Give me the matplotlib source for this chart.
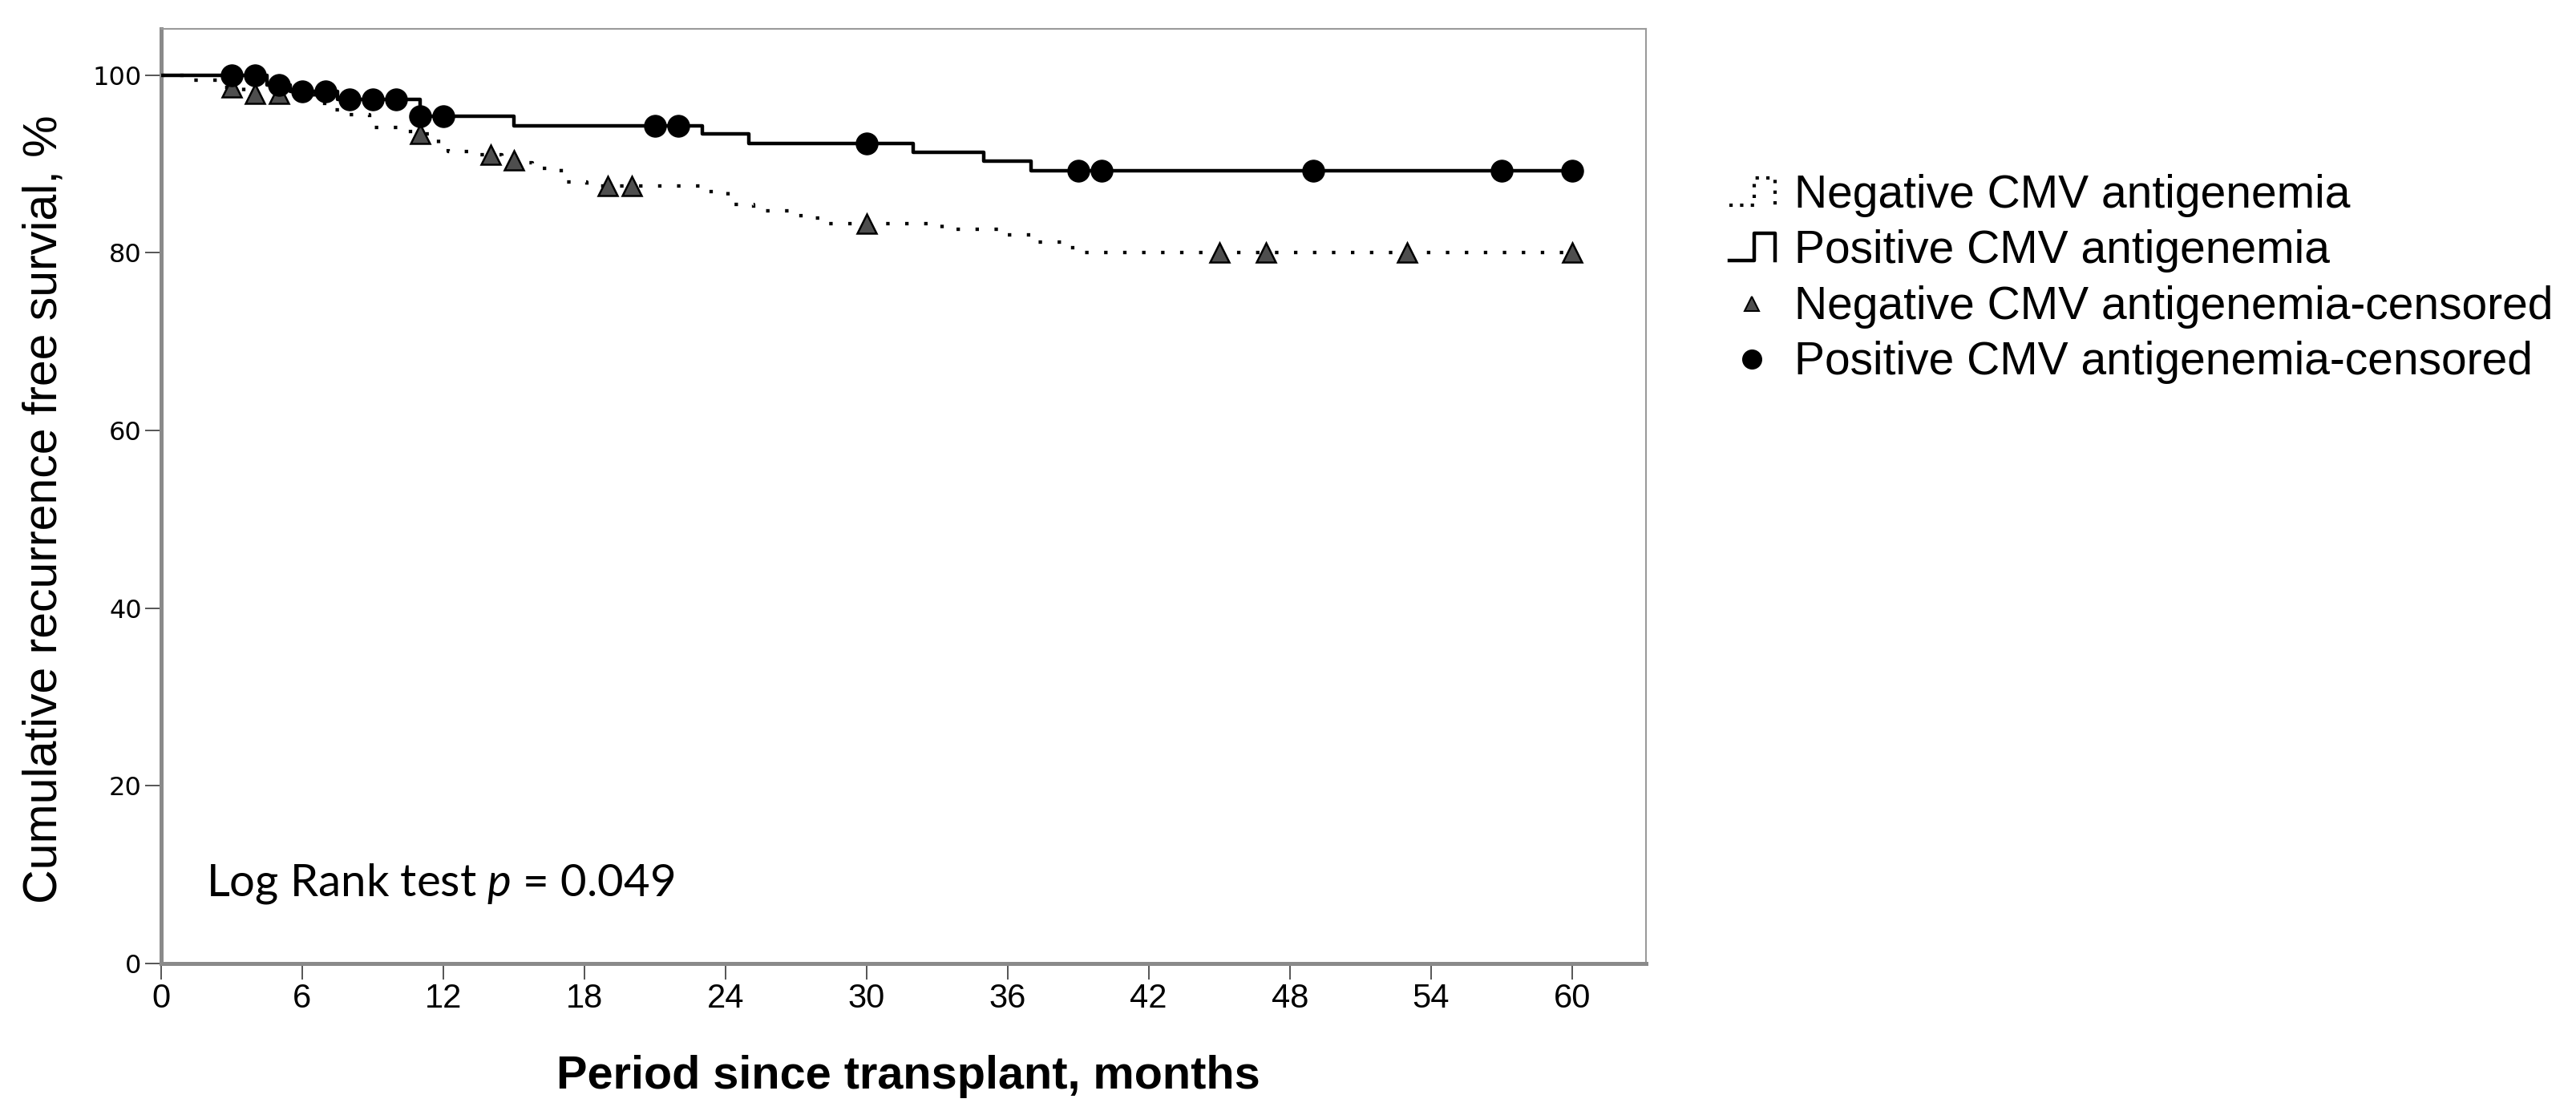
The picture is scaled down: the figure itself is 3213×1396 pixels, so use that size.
import numpy as np
import matplotlib
matplotlib.use("Agg")
import matplotlib.pyplot as plt
from matplotlib.lines import Line2D
from matplotlib.legend_handler import HandlerBase

plt.rcParams['font.family'] = ['Liberation Sans', 'DejaVu Sans']
plt.rcParams['mathtext.fontset'] = 'custom'
plt.rcParams['mathtext.rm'] = 'Lato'
plt.rcParams['mathtext.it'] = 'Lato:italic'

# ---------------- data ----------------
# Negative CMV antigenemia: Kaplan-Meier step curve (time in months, survival %)
neg_times = [0, 1.2, 2.5, 3.5, 6.5, 7.3, 7.8, 8.85, 10.6, 11.8, 12.2, 13.5, 14.5,
             15.3, 15.8, 17.0, 18.1, 23.0, 24.1, 25.2, 27.2, 28.2, 33.2, 36.0,
             37.1, 38.3, 38.9]
neg_surv = [100, 99.4, 98.6, 97.9, 96.8, 96.1, 95.5, 94.1, 93.4, 92.3, 91.4, 91.0,
            90.4, 90.1, 89.5, 88.0, 87.5, 86.9, 85.4, 84.7, 83.9, 83.3, 82.6, 82.0,
            81.2, 80.6, 80.0]
neg_censored = [3, 4, 5, 11, 14, 15, 19, 20, 30, 45, 47, 53, 60]

# Positive CMV antigenemia
pos_times = [0, 4.5, 5.5, 7.5, 11.0, 15.0, 23.0, 25.0, 32.0, 35.0, 37.0]
pos_surv = [100, 98.9, 98.2, 97.3, 95.4, 94.3, 93.4, 92.3, 91.3, 90.3, 89.2]
pos_censored = [3, 4, 5, 6, 7, 8, 9, 10, 11, 12, 21, 22, 30, 39, 40, 49, 57, 60]

end_time = 60
x_ticks = [0, 6, 12, 18, 24, 30, 36, 42, 48, 54, 60]
y_ticks = [0, 20, 40, 60, 80, 100]
legend_labels = ["Negative CMV antigenemia", "Positive CMV antigenemia",
                 "Negative CMV antigenemia-censored", "Positive CMV antigenemia-censored"]


def surv_at(times, surv, t):
    idx = np.searchsorted(np.asarray(times), np.asarray(t), side='right') - 1
    return np.asarray(surv)[idx]


# ---------------- figure ----------------
W, H = 3213, 1396
fig = plt.figure(figsize=(W / 100, H / 100), dpi=100)
ax = fig.add_axes([201 / W, 1 - 1201.8 / H, 1852 / W, (1201.8 - 36) / H])

dot_style = (0, (1, 4.5))
neg_x = list(neg_times) + [end_time]
neg_y = list(neg_surv) + [neg_surv[-1]]
pos_x = list(pos_times) + [end_time]
pos_y = list(pos_surv) + [pos_surv[-1]]

ax.step(neg_x, neg_y, where='post', color='black', lw=3.1,
        linestyle=dot_style, dash_capstyle='butt', zorder=2)
ax.step(pos_x, pos_y, where='post', color='black', lw=3.2, zorder=3)

tri_face = '#4e4e4e'
ax.plot(neg_censored, surv_at(neg_times, neg_surv, neg_censored), ls='none',
        marker='^', markersize=17, markerfacecolor=tri_face,
        markeredgecolor='black', markeredgewidth=1.8, zorder=4)
ax.plot(pos_censored, surv_at(pos_times, pos_surv, pos_censored), ls='none',
        marker='o', markersize=19.5, markerfacecolor='black',
        markeredgecolor='black', zorder=5)

ax.set_xlim(0, 63.15)
ax.set_ylim(0, 105.2)
ax.set_xticks(x_ticks)
ax.set_yticks(y_ticks)
ax.set_xticklabels([str(v) for v in x_ticks], fontsize=30)
ax.set_yticklabels([str(v) for v in y_ticks], fontsize=23, family='DejaVu Sans')
ax.tick_params(axis='both', direction='out', length=14.5, width=1.4,
               color='#555555', pad=3)

for s in ['left', 'bottom']:
    ax.spines[s].set_linewidth(3.6)
    ax.spines[s].set_color('#8a8a8a')
for s in ['top', 'right']:
    ax.spines[s].set_linewidth(1.5)
    ax.spines[s].set_color('#9a9a9a')

ax.set_ylabel("Cumulative recurrence free survial, %", fontsize=42.5)
ax.yaxis.set_label_coords(-0.064, 0.486)
ax.set_xlabel("Period since transplant, months", fontsize=41.5, fontweight='bold')
ax.xaxis.set_label_coords(0.503, -0.098)

ax.text(1.9, 7.65, r"Log Rank test $\it{p}$ = 0.049", fontsize=40.5,
        family='Lato', va='baseline', ha='left')


# ---------------- legend ----------------
class PulseHandler(HandlerBase):
    def __init__(self, ls, lw, **kw):
        super().__init__(**kw)
        self.ls = ls
        self.lw = lw

    def create_artists(self, legend, orig_handle, xdescent, ydescent, width,
                       height, fontsize, trans):
        xs = np.array([0.0, 0.55, 0.55, 1.0, 1.0]) * width - xdescent
        ys = np.array([0.0, 0.0, 1.0, 1.0, 0.0]) * height - ydescent
        ln = Line2D(xs, ys, color='black', linestyle=self.ls, lw=self.lw,
                    dash_capstyle='butt')
        ln.set_transform(trans)
        return [ln]


h_neg = Line2D([], [], color='black')
h_pos = Line2D([], [], color='black')
h_negc = Line2D([], [], ls='none', marker='^', markersize=13,
                markerfacecolor=tri_face, markeredgecolor='black',
                markeredgewidth=1.5)
h_posc = Line2D([], [], ls='none', marker='o', markersize=17,
                markerfacecolor='black', markeredgecolor='black')

fig.legend([h_neg, h_pos, h_negc, h_posc], legend_labels,
           handler_map={h_neg: PulseHandler((0, (1, 2.2)), 3.0),
                        h_pos: PulseHandler('-', 3.2)},
           loc='upper left', bbox_to_anchor=(2157 / W, 1 - 217 / H),
           frameon=False, fontsize=41, handlelength=1.0, handleheight=0.55,
           handletextpad=0.42, labelspacing=0.27, borderpad=0, borderaxespad=0)

fig.savefig("out.png", dpi=100)
